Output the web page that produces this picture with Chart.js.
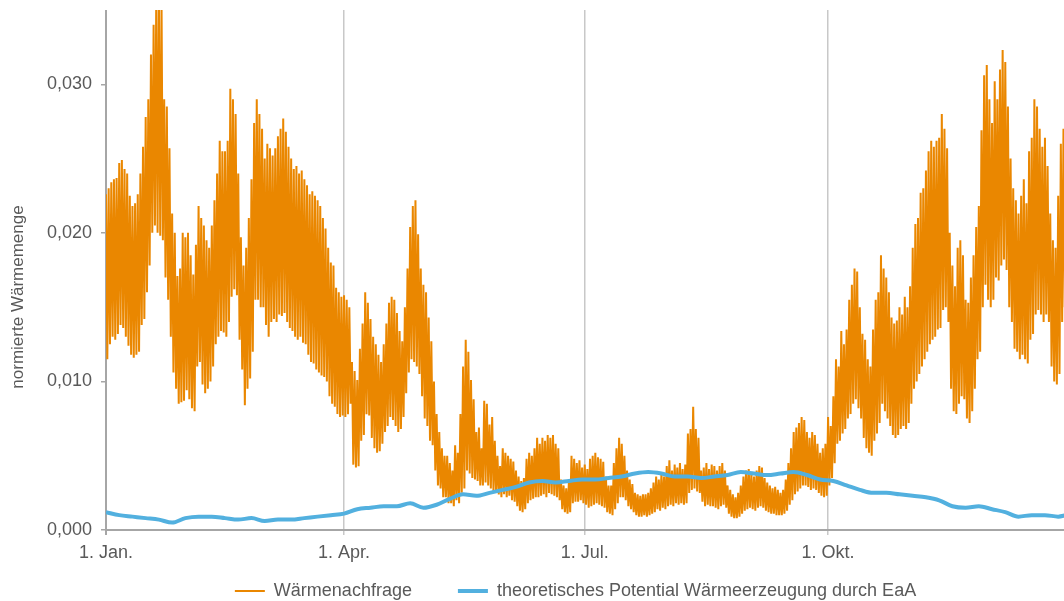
<!DOCTYPE html>
<html>
<head>
<meta charset="utf-8">
<script src="https://cdn.jsdelivr.net/npm/chart.js@4.4.1/dist/chart.umd.min.js"></script>
<style>
  html, body { margin: 0; padding: 0; background: #ffffff; }
  #wrap { width: 1064px; height: 601px; position: relative; overflow: hidden; }
</style>
</head>
<body>
<div id="wrap"><canvas id="c"></canvas></div>
<script>
// ---- data ----
const seriesNames = ['Wärmenachfrage', 'theoretisches Potential Wärmeerzeugung durch EaA'];
const yTitle = 'normierte Wärmemenge';
const xTickDays = [0, 90, 181, 273];
const xTickLabels = ['1. Jan.', '1. Apr.', '1. Jul.', '1. Okt.'];
const yTicks = [0, 0.01, 0.02, 0.03];

// daily maxima of the demand curve (day 0 = 1. Jan.)
const demandHigh = [
  .0226,.0230,.0234,.0236,.0237,.0247,.0249,.0243,.0240,.0225,
  .0218,.0220,.0226,.0240,.0258,.0278,.0290,.0320,.0340,.0360,
  .0360,.0355,.0290,.0285,.0257,.0213,.0200,.0171,.0176,.0200,
  .0197,.0200,.0185,.0172,.0192,.0218,.0210,.0205,.0195,.0190,
  .0205,.0222,.0240,.0262,.0255,.0255,.0262,.0297,.0290,.0280,
  .0240,.0197,.0178,.0190,.0210,.0236,.0274,.0290,.0280,.0270,
  .0250,.0260,.0257,.0252,.0257,.0265,.0270,.0277,.0268,.0258,
  .0250,.0243,.0245,.0240,.0242,.0236,.0232,.0226,.0228,.0225,
  .0222,.0218,.0210,.0203,.0190,.0180,.0178,.0163,.0160,.0157,
  .0158,.0155,.0150,.0113,.0107,.0101,.0122,.0139,.0160,.0153,
  .0142,.0130,.0125,.0118,.0113,.0125,.0139,.0153,.0157,.0155,
  .0146,.0134,.0127,.0150,.0176,.0204,.0218,.0222,.0199,.0176,
  .0165,.0160,.0143,.0127,.0100,.0078,.0066,.0055,.0050,.0050,
  .0045,.0040,.0057,.0052,.0078,.0110,.0128,.0120,.0101,.0088,
  .0066,.0069,.0055,.0087,.0085,.0071,.0076,.0060,.0050,.0043,
  .0055,.0052,.0050,.0048,.0046,.0040,.0036,.0033,.0035,.0048,
  .0052,.0050,.0055,.0062,.0058,.0062,.0060,.0064,.0062,.0064,
  .0058,.0055,.0034,.0030,.0028,.0032,.0050,.0048,.0045,.0047,
  .0042,.0044,.0041,.0048,.0050,.0052,.0049,.0048,.0046,.0036,
  .0030,.0030,.0045,.0055,.0062,.0058,.0050,.0040,.0034,.0031,
  .0025,.0024,.0023,.0024,.0024,.0025,.0028,.0032,.0036,.0034,
  .0038,.0036,.0043,.0047,.0040,.0044,.0042,.0045,.0041,.0044,
  .0065,.0068,.0083,.0068,.0062,.0040,.0042,.0045,.0041,.0044,
  .0043,.0040,.0043,.0045,.0040,.0030,.0027,.0024,.0022,.0025,
  .0030,.0036,.0040,.0041,.0038,.0036,.0040,.0043,.0042,.0035,
  .0032,.0030,.0028,.0029,.0027,.0025,.0027,.0034,.0045,.0055,
  .0066,.0069,.0072,.0076,.0074,.0066,.0062,.0066,.0064,.0058,
  .0052,.0055,.0058,.0076,.0070,.0090,.0115,.0110,.0134,.0125,
  .0135,.0155,.0165,.0176,.0174,.0150,.0132,.0128,.0115,.0110,
  .0135,.0155,.0160,.0185,.0176,.0170,.0160,.0143,.0139,.0141,
  .0150,.0145,.0157,.0150,.0164,.0190,.0206,.0210,.0227,.0230,
  .0242,.0255,.0262,.0258,.0262,.0264,.0280,.0270,.0257,.0200,
  .0178,.0164,.0190,.0195,.0185,.0155,.0153,.0170,.0185,.0204,
  .0218,.0269,.0306,.0313,.0290,.0274,.0302,.0290,.0310,.0323,
  .0315,.0285,.0250,.0230,.0222,.0213,.0225,.0236,.0220,.0255,
  .0264,.0290,.0285,.0270,.0258,.0264,.0245,.0213,.0195,.0190,
  .0225,.0260,.0270
];
// daily minima of the demand curve
const demandLow = [
  .0115,.0125,.0130,.0128,.0132,.0138,.0136,.0130,.0124,.0118,
  .0116,.0118,.0120,.0138,.0142,.0160,.0178,.0200,.0205,.0200,
  .0198,.0195,.0170,.0155,.0130,.0106,.0095,.0085,.0086,.0087,
  .0094,.0088,.0082,.0080,.0110,.0113,.0098,.0092,.0095,.0100,
  .0110,.0125,.0130,.0134,.0133,.0130,.0140,.0157,.0162,.0158,
  .0128,.0108,.0084,.0095,.0102,.0120,.0155,.0155,.0150,.0150,
  .0138,.0130,.0140,.0142,.0140,.0145,.0144,.0146,.0140,.0136,
  .0134,.0130,.0128,.0130,.0126,.0125,.0118,.0113,.0112,.0108,
  .0106,.0104,.0103,.0100,.0090,.0085,.0083,.0078,.0076,.0077,
  .0076,.0078,.0085,.0044,.0042,.0043,.0060,.0064,.0078,.0077,
  .0062,.0055,.0052,.0053,.0058,.0066,.0070,.0076,.0074,.0070,
  .0066,.0068,.0076,.0092,.0106,.0115,.0113,.0110,.0105,.0090,
  .0075,.0070,.0060,.0057,.0040,.0030,.0028,.0022,.0022,.0018,
  .0018,.0016,.0020,.0018,.0025,.0028,.0040,.0038,.0035,.0034,
  .0033,.0030,.0030,.0032,.0030,.0028,.0026,.0025,.0024,.0022,
  .0024,.0022,.0023,.0020,.0019,.0016,.0013,.0012,.0014,.0018,
  .0020,.0021,.0022,.0022,.0023,.0024,.0022,.0025,.0024,.0023,
  .0022,.0020,.0014,.0012,.0011,.0012,.0018,.0019,.0019,.0020,
  .0018,.0017,.0015,.0016,.0017,.0018,.0017,.0016,.0015,.0012,
  .0011,.0010,.0014,.0018,.0022,.0022,.0020,.0016,.0014,.0012,
  .0010,.0009,.0009,.0010,.0009,.0010,.0011,.0012,.0014,.0013,
  .0015,.0014,.0016,.0017,.0016,.0018,.0017,.0018,.0017,.0018,
  .0025,.0027,.0028,.0026,.0025,.0019,.0016,.0017,.0016,.0016,
  .0015,.0014,.0016,.0017,.0015,.0011,.0009,.0008,.0008,.0009,
  .0011,.0013,.0014,.0015,.0014,.0013,.0015,.0016,.0015,.0013,
  .0012,.0011,.0011,.0010,.0010,.0010,.0011,.0013,.0017,.0020,
  .0024,.0026,.0028,.0030,.0030,.0029,.0027,.0028,.0027,.0025,
  .0023,.0022,.0023,.0030,.0035,.0045,.0058,.0060,.0065,.0068,
  .0075,.0078,.0085,.0088,.0082,.0075,.0062,.0055,.0052,.0050,
  .0060,.0065,.0072,.0085,.0080,.0075,.0070,.0064,.0062,.0064,
  .0068,.0070,.0068,.0072,.0085,.0095,.0100,.0105,.0110,.0115,
  .0120,.0125,.0128,.0130,.0135,.0136,.0148,.0150,.0140,.0095,
  .0080,.0078,.0085,.0090,.0088,.0075,.0072,.0080,.0095,.0115,
  .0120,.0150,.0165,.0155,.0150,.0155,.0170,.0168,.0178,.0182,
  .0175,.0150,.0140,.0122,.0120,.0115,.0118,.0115,.0112,.0128,
  .0132,.0145,.0148,.0145,.0140,.0145,.0140,.0110,.0100,.0098,
  .0105,.0140,.0150
];

// potential curve, sampled days
const potentialDays = [
  0,5,10,15,20,25,30,35,40,45,
  50,55,60,65,70,75,80,85,90,95,
  100,105,110,115,120,125,130,135,140,145,
  150,155,160,165,170,175,180,185,190,195,
  200,205,210,215,220,225,230,235,240,245,
  250,255,260,265,270,275,280,285,290,295,
  300,305,310,315,320,325,330,335,340,345,
  350,355,360,363
];
const potentialVals = [
  0.0012,0.0010,0.0009,0.0008,0.0007,0.0005,0.0008,0.0009,0.0009,0.0008,
  0.0007,0.0008,0.0006,0.0007,0.0007,0.0008,0.0009,0.0010,0.0011,0.0014,
  0.0015,0.0016,0.0016,0.0018,0.0015,0.0017,0.0021,0.0024,0.0023,0.0025,
  0.0027,0.0029,0.0032,0.0033,0.0032,0.0033,0.0034,0.0034,0.0035,0.0036,
  0.0038,0.0039,0.0038,0.0036,0.0036,0.0035,0.0036,0.0037,0.0039,0.0038,
  0.0037,0.0038,0.0039,0.0037,0.0034,0.0033,0.0030,0.0027,0.0025,0.0025,
  0.0024,0.0023,0.0022,0.0020,0.0016,0.0015,0.0016,0.0014,0.0012,0.0009,
  0.0010,0.0010,0.0009,0.0010
];

// ---- build datasets ----
const demandPts = [];
demandHigh.forEach((h, i) => {
  demandPts.push({ x: i, y: h });
  demandPts.push({ x: i + 0.5, y: demandLow[i] });
});
const potentialPts = potentialDays.map((d, i) => ({ x: d, y: potentialVals[i] }));

const TXT = '#595959';
const AXIS = '#a6a6a6';
const GRID = '#c8c8c8';
const FAMILY = '"Liberation Sans", Arial, sans-serif';
const FONT = { family: FAMILY, size: 18 };

// layout helper: keep x tick labels unclipped, nudge legend row and y title
const layoutTweaks = {
  id: 'layoutTweaks',
  afterLayout(chart) {
    chart.scales.x.bottom = chart.height;
    chart.scales.y.bottom += 54;
    if (chart.legend) {
      chart.legend.left -= 9.5;
      chart.legend.right -= 9.5;
    }
  }
};

new Chart(document.getElementById('c'), {
  type: 'line',
  data: {
    datasets: [
      {
        label: seriesNames[0],
        data: demandPts,
        borderColor: '#EA8700',
        backgroundColor: '#EA8700',
        borderWidth: 2,
        pointRadius: 0,
        tension: 0,
        order: 1
      },
      {
        label: seriesNames[1],
        data: potentialPts,
        borderColor: '#52B0DF',
        backgroundColor: '#52B0DF',
        borderWidth: 4,
        pointRadius: 0,
        cubicInterpolationMode: 'monotone',
        order: 0
      }
    ]
  },
  plugins: [layoutTweaks],
  options: {
    responsive: true,
    maintainAspectRatio: false,
    animation: false,
    layout: { padding: { left: 0, right: 0, top: 10, bottom: -9 } },
    scales: {
      x: {
        type: 'linear',
        min: 0,
        max: 362.2,
        afterBuildTicks: (s) => { s.ticks = xTickDays.map(v => ({ value: v })); },
        afterFit: (s) => { s.height = 6; },
        ticks: {
          color: TXT,
          font: FONT,
          padding: 7,
          maxRotation: 0,
          autoSkip: false,
          callback: (v) => xTickLabels[xTickDays.indexOf(v)]
        },
        grid: {
          color: (c) => (c.tick && c.tick.value === 0 ? AXIS : GRID),
          lineWidth: (c) => (c.tick && c.tick.value === 0 ? 2 : 1.5),
          drawTicks: true,
          tickLength: 5
        },
        border: { display: true, color: AXIS, width: 2 }
      },
      y: {
        min: 0,
        max: 0.035,
        afterBuildTicks: (s) => { s.ticks = yTicks.map(v => ({ value: v })); },
        afterFit: (s) => { s.width = 106; s.paddingTop = 0; s.paddingBottom = 0; },
        ticks: {
          color: TXT,
          font: FONT,
          padding: 9,
          callback: (v) => v.toFixed(3).replace('.', ',')
        },
        grid: {
          drawOnChartArea: false,
          drawTicks: true,
          tickLength: 5,
          color: AXIS,
          lineWidth: 1.5
        },
        border: { display: false },
        title: {
          display: true,
          text: yTitle,
          color: TXT,
          font: { family: FAMILY, size: 17 },
          padding: { top: 8, bottom: 0 }
        }
      }
    },
    plugins: {
      tooltip: { enabled: false },
      legend: {
        position: 'bottom',
        align: 'center',
        fullSize: false,
        labels: {
          color: TXT,
          font: FONT,
          usePointStyle: true,
          pointStyle: 'line',
          pointStyleWidth: 30,
          padding: 46,
          sort: (a, b) => a.datasetIndex - b.datasetIndex
        }
      }
    }
  }
});
</script>
</body>
</html>
